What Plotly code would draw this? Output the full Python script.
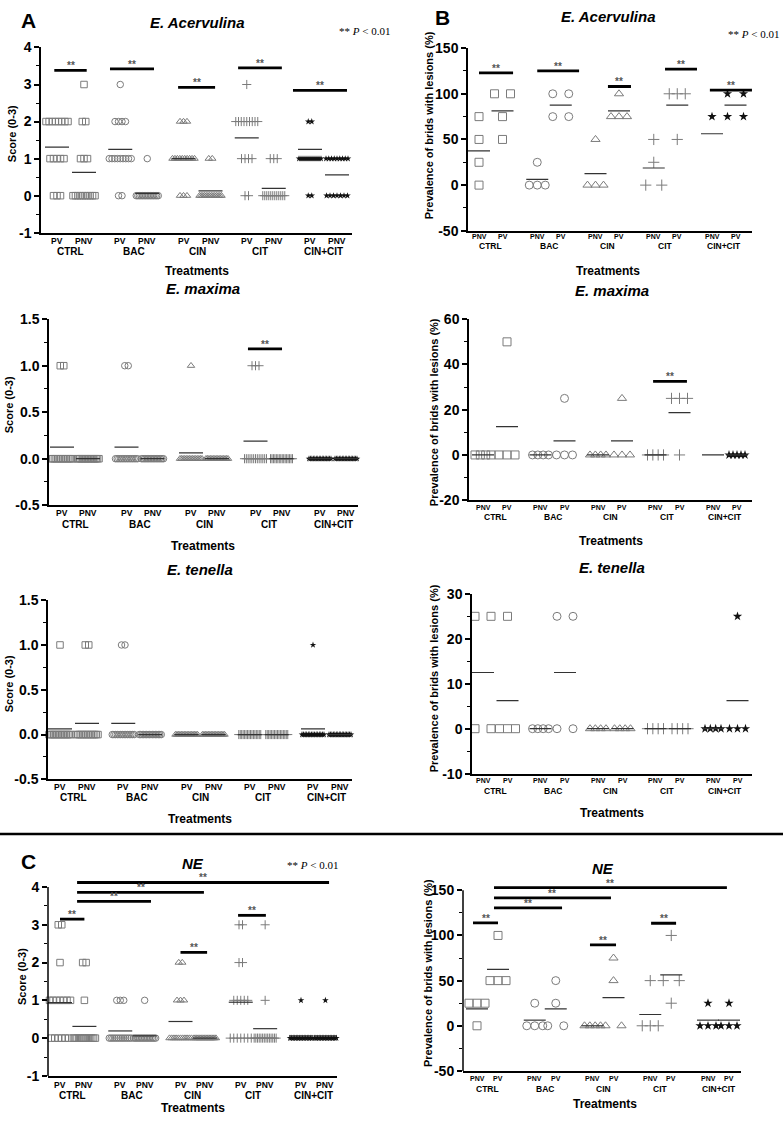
import numpy as np
import plotly.graph_objects as go

# ---------------------------------------------------------------- data
groups = ["CTRL", "BAC", "CIN", "CIT", "CIN+CIT"]
sub_score = ["PV", "PNV"]          # order on the score (left) panels
sub_prev = ["PNV", "PV"]           # order on the prevalence (right) panels
score_levels = [0, 1, 2, 3]

# Lesion scores: number of birds at score 0, 1, 2, 3 for each treatment
acer_score_pv = [[3, 5, 8, 0], [2, 9, 4, 1], [3, 10, 3, 0], [2, 4, 9, 1], [2, 12, 2, 0]]
acer_score_pnv = [[10, 3, 2, 1], [15, 1, 0, 0], [14, 2, 0, 0], [12, 3, 0, 0], [7, 9, 0, 0]]
acer_score_mean_pv = [1.31, 1.25, 1.00, 1.56, 1.25]
acer_score_mean_pnv = [0.63, 0.06, 0.13, 0.20, 0.56]

max_score_pv = [[14, 2], [14, 2], [15, 1], [13, 3], [16, 0]]
max_score_pnv = [[16, 0], [16, 0], [16, 0], [16, 0], [16, 0]]
max_score_mean_pv = [0.125, 0.125, 0.0625, 0.19, 0.0]
max_score_mean_pnv = [0.0, 0.0, 0.0, 0.0, 0.0]

ten_score_pv = [[15, 1], [14, 2], [16, 0], [16, 0], [15, 1]]
ten_score_pnv = [[14, 2], [16, 0], [16, 0], [16, 0], [16, 0]]
ten_score_mean_pv = [0.0625, 0.125, 0.0, 0.0, 0.0625]
ten_score_mean_pnv = [0.125, 0.0, 0.0, 0.0, 0.0]

ne_score_pv = [[6, 7, 1, 2], [13, 3, 0, 0], [11, 3, 2, 0], [7, 5, 2, 2], [15, 1, 0, 0]]
ne_score_pnv = [[13, 1, 2, 0], [15, 1, 0, 0], [16, 0, 0, 0], [14, 1, 0, 1], [15, 1, 0, 0]]
ne_score_mean_pv = [0.94, 0.19, 0.44, 0.95, 0.06]
ne_score_mean_pnv = [0.31, 0.06, 0.0, 0.25, 0.06]

# Prevalence of birds with lesions (%), one value per pen
acer_prev_pnv = [[0, 25, 50, 75], [0, 0, 0, 25], [0, 0, 0, 50], [0, 0, 25, 50], [75]]
acer_prev_pv = [[50, 75, 100, 100], [75, 75, 100, 100], [75, 75, 75, 100], [50, 100, 100, 100], [75, 75, 100, 100]]
acer_prev_mean_pnv = [37.5, 6.25, 12.5, 18.75, 56.25]
acer_prev_mean_pv = [81.25, 87.5, 81.25, 87.5, 87.5]

max_prev_pnv = [[0, 0, 0, 0], [0, 0, 0, 0], [0, 0, 0, 0], [0, 0, 0, 0], []]
max_prev_pv = [[0, 0, 0, 50], [0, 0, 0, 25], [0, 0, 0, 25], [0, 25, 25, 25], [0, 0, 0, 0, 0]]
max_prev_mean_pnv = [0.0, 0.0, 0.0, 0.0, 0.0]
max_prev_mean_pv = [12.5, 6.25, 6.25, 18.75, 0.0]

ten_prev_pnv = [[0, 0, 25, 25], [0, 0, 0, 0], [0, 0, 0, 0], [0, 0, 0, 0], [0, 0, 0, 0]]
ten_prev_pv = [[0, 0, 0, 25], [0, 0, 25, 25], [0, 0, 0, 0], [0, 0, 0, 0], [0, 0, 0, 25]]
ten_prev_mean_pnv = [12.5, 0.0, 0.0, 0.0, 0.0]
ten_prev_mean_pv = [6.25, 12.5, 0.0, 0.0, 6.25]

ne_prev_pnv = [[0, 25, 25, 25], [0, 0, 0, 25], [0, 0, 0, 0], [0, 0, 0, 50], [0, 0, 0, 25]]
ne_prev_pv = [[50, 50, 50, 100], [0, 0, 25, 50], [0, 0, 50, 75], [25, 50, 50, 100], [0, 0, 0, 25]]
ne_prev_mean_pnv = [18.75, 6.25, 0.0, 12.5, 6.25]
ne_prev_mean_pv = [62.5, 18.75, 31.25, 56.25, 6.25]

# Significance bars (** P < 0.01): (group from, offset, group to, offset, level)
acer_score_sig = [(0, -0.1, 0, 1.1, 3.38), (1, -0.38, 1, 1.25, 3.42), (2, -0.2, 2, 1.17, 2.92),
                  (3, -0.32, 3, 1.3, 3.45), (4, -0.63, 4, 1.37, 2.84)]
acer_prev_sig = [(0, 0.0, 0, 1.45, 123), (1, 0.0, 1, 1.78, 125), (2, 0.53, 2, 1.51, 108),
                 (3, 0.48, 3, 1.84, 127), (4, -0.09, 4, 1.7, 104)]
max_score_sig = [(3, -0.29, 3, 1.02, 1.18)]
max_prev_sig = [(3, -0.1, 3, 1.31, 32.5)]
ten_score_sig = []
ten_prev_sig = []
ne_score_sig = [(0, 0.0, 0, 1.0, 3.15), (2, 0.0, 2, 1.09, 2.27), (3, -0.11, 3, 1.03, 3.25),
                (0, 0.7, 1, 1.26, 3.62), (0, 0.7, 2, 0.96, 3.86), (0, 0.7, 4, 1.15, 4.12)]
ne_prev_sig = [(0, -0.19, 0, 1.0, 114), (2, -0.12, 2, 1.12, 89.5), (3, 0.04, 3, 1.23, 113.5),
               (0, 0.81, 1, 1.3, 130.5), (0, 0.81, 2, 0.88, 141.5), (0, 0.81, 4, 0.9, 153)]

# ---------------------------------------------------------------- style / layout
W, H = 783, 1125
SANS = "Liberation Sans"
SERIF = "Liberation Serif"
GRAY = "#7b7b7b"
symbols = ["square-open", "circle-open", "triangle-up-open", "cross-thin", "star"]
marker_colors = [GRAY, GRAY, GRAY, GRAY, "#111111"]

# pixel geometry of each panel
GEOM = [
    dict(x0=41, x1=352, first=57, gsp=63.25, ssp=27, yt=40, yb=228, vt=4, vb=-1, ext=4, dt=1, mn=0.5, fmt="g", so=8, go=19),
    dict(x0=468, x1=752, first=479, gsp=58.25, ssp=23.5, yt=40.7, yb=226, vt=150, vb=-50, ext=150, dt=50, mn=25, fmt="g", so=6, go=15),
    dict(x0=49, x1=358, first=62, gsp=64.5, ssp=26, yt=315.7, yb=504.4, vt=1.5, vb=-0.5, ext=1.5, dt=0.5, mn=0.25, fmt=".1f", so=8, go=19),
    dict(x0=469, x1=752, first=483, gsp=57.5, ssp=24, yt=315.7, yb=499.3, vt=60, vb=-20, ext=60, dt=20, mn=10, fmt="g", so=7, go=17),
    dict(x0=48, x1=352, first=60, gsp=63.25, ssp=27, yt=600.7, yb=782.5, vt=1.5, vb=-0.5, ext=1.5, dt=0.5, mn=0.25, fmt=".1f", so=7.5, go=18.5),
    dict(x0=472, x1=752, first=483, gsp=57.5, ssp=24.5, yt=594.3, yb=776.7, vt=30, vb=-10, ext=30, dt=10, mn=5, fmt="g", so=7, go=17),
    dict(x0=48, x1=337, first=60, gsp=60.25, ssp=24.4, yt=891.7, yb=1083.3, vt=4, vb=-1, ext=4.45, dt=1, mn=0.5, fmt="g", so=9, go=20),
    dict(x0=463, x1=741, first=477, gsp=57.75, ssp=21, yt=895, yb=1078.3, vt=150, vb=-50, ext=165, dt=50, mn=25, fmt="g", so=8, go=18),
]

CONTENT = [
    dict(kind="score", subs=sub_score, a=acer_score_pv, b=acer_score_pnv, ma=acer_score_mean_pv, mb=acer_score_mean_pnv, sig=acer_score_sig),
    dict(kind="prev", subs=sub_prev, a=acer_prev_pnv, b=acer_prev_pv, ma=acer_prev_mean_pnv, mb=acer_prev_mean_pv, sig=acer_prev_sig),
    dict(kind="score", subs=sub_score, a=max_score_pv, b=max_score_pnv, ma=max_score_mean_pv, mb=max_score_mean_pnv, sig=max_score_sig),
    dict(kind="prev", subs=sub_prev, a=max_prev_pnv, b=max_prev_pv, ma=max_prev_mean_pnv, mb=max_prev_mean_pv, sig=max_prev_sig),
    dict(kind="score", subs=sub_score, a=ten_score_pv, b=ten_score_pnv, ma=ten_score_mean_pv, mb=ten_score_mean_pnv, sig=ten_score_sig),
    dict(kind="prev", subs=sub_prev, a=ten_prev_pnv, b=ten_prev_pv, ma=ten_prev_mean_pnv, mb=ten_prev_mean_pv, sig=ten_prev_sig),
    dict(kind="score", subs=sub_score, a=ne_score_pv, b=ne_score_pnv, ma=ne_score_mean_pv, mb=ne_score_mean_pnv, sig=ne_score_sig),
    dict(kind="prev", subs=sub_prev, a=ne_prev_pnv, b=ne_prev_pv, ma=ne_prev_mean_pnv, mb=ne_prev_mean_pv, sig=ne_prev_sig),
]


def spread(n, step, cap):
    if n <= 1:
        return [0.0] * n
    span = min(step * (n - 1), cap)
    return list(np.linspace(-span / 2, span / 2, n))


fig = go.Figure()
layout = {}
shapes = []
annotations = []

for i, (geo, con) in enumerate(zip(GEOM, CONTENT), start=1):
    s = "" if i == 1 else str(i)
    xr, yr = "x" + s, "y" + s
    ssp = geo["ssp"]
    G = geo["gsp"] / ssp
    left = con["kind"] == "score"
    msize = 6.5 if left else 8
    step, cap = (3.5, 22) if left else (16, 16)

    def pos(g, f):
        return g * G + f

    # data points
    for g in range(len(groups)):
        for j, data in enumerate([con["a"], con["b"]]):
            xs, ys = [], []
            if left:
                for lvl, c in zip(score_levels, data[g]):
                    xs += [pos(g, j) + o / ssp for o in spread(c, step, cap)]
                    ys += [lvl] * c
            else:
                vals = data[g]
                for v in sorted(set(vals)):
                    c = vals.count(v)
                    xs += [pos(g, j) + o / ssp for o in spread(c, step, cap)]
                    ys += [v] * c
            col = marker_colors[g]
            if symbols[g] == "star":
                mk = dict(symbol="star", size=(5 if left else 7), color=col, line=dict(width=0))
            else:
                mk = dict(symbol=symbols[g], size=msize, color=col, line=dict(width=1, color=col))
            fig.add_trace(go.Scatter(
                x=xs, y=ys, mode="markers", xaxis=xr, yaxis=yr, showlegend=False,
                marker=mk, cliponaxis=False, hoverinfo="skip"))

    # mean lines
    hw = (12 if left else 11) / ssp
    mx, my = [], []
    for g in range(len(groups)):
        for j, means in enumerate([con["ma"], con["mb"]]):
            c = pos(g, j)
            mx += [c - hw, c + hw, None]
            my += [means[g], means[g], None]
    fig.add_trace(go.Scatter(x=mx, y=my, mode="lines", xaxis=xr, yaxis=yr, showlegend=False,
                             line=dict(color="#333333", width=1.2), hoverinfo="skip"))

    # significance bars
    if con["sig"]:
        sx, sy = [], []
        for g0, f0, g1, f1, lev in con["sig"]:
            a, b = pos(g0, f0), pos(g1, f1)
            sx += [a, b, None]
            sy += [lev, lev, None]
            annotations.append(dict(xref=xr, yref=yr, x=(a + b) / 2, y=lev, yanchor="bottom", yshift=-3,
                                    showarrow=False, text="<b>**</b>",
                                    font=dict(family=SANS, size=10, color="#555555")))
        fig.add_trace(go.Scatter(x=sx, y=sy, mode="lines", xaxis=xr, yaxis=yr, showlegend=False,
                                 line=dict(color="black", width=2.8), hoverinfo="skip"))

    # axes
    vb, vt, ext, dt, mn = geo["vb"], geo["vt"], geo["ext"], geo["dt"], geo["mn"]
    k = (geo["yb"] - geo["yt"]) / (vt - vb)
    top_px = geo["yt"] - (ext - vt) * k
    tv = np.arange(vb, vt + dt * 0.5, dt)
    tt = [format(v, geo["fmt"]) for v in tv]
    minor_v = np.arange(vb + mn, vt, 2 * mn)
    extended = ext > vt
    layout["xaxis" + s] = dict(
        domain=[geo["x0"] / W, geo["x1"] / W],
        range=[(geo["x0"] - geo["first"]) / ssp, (geo["x1"] - geo["first"]) / ssp],
        anchor=yr, showline=True, linecolor="black", linewidth=1.5, showticklabels=False,
        ticks="", showgrid=False, zeroline=False, fixedrange=True)
    layout["yaxis" + s] = dict(
        domain=[1 - geo["yb"] / H, 1 - top_px / H], range=[vb, ext], anchor=xr,
        showline=not extended, linecolor="black", linewidth=1.5,
        tickmode="array", tickvals=list(tv), ticktext=tt,
        ticks="outside", ticklen=5, tickwidth=1.5, tickcolor="black",
        minor=dict(tickmode="array", tickvals=list(minor_v), ticks="outside", ticklen=3,
                   tickwidth=1.2, tickcolor="black"),
        tickfont=dict(family=SANS, size=14, color="black", weight="bold"),
        showgrid=False, zeroline=False, fixedrange=True)
    if extended:
        shapes.append(dict(type="line", xref=xr + " domain", yref=yr, x0=0, x1=0, y0=vb, y1=vt,
                           line=dict(color="black", width=1.5)))

    # category labels under the x axis
    sub_size = 8.5 if left else 7
    grp_size = 10 if left else 8.5
    for g, name in enumerate(groups):
        for j, sub in enumerate(con["subs"]):
            annotations.append(dict(xref=xr, yref=yr + " domain", x=pos(g, j), y=0, yanchor="middle",
                                    yshift=-geo["so"], showarrow=False, text="<b>%s</b>" % sub,
                                    font=dict(family=SANS, size=sub_size, color="black")))
        annotations.append(dict(xref=xr, yref=yr + " domain", x=pos(g, 0.5), y=0, yanchor="middle",
                                yshift=-geo["go"], showarrow=False, text="<b>%s</b>" % name,
                                font=dict(family=SANS, size=grp_size, color="black")))

# ---------------------------------------------------------------- text
PV_TXT = "** <i>P</i> &lt; 0.01"
texts = [
    # text, x px, y px, size, family, angle, anchor
    ("<b>A</b>", 28, 13, 21, SANS, 0, "center"),
    ("<b>B</b>", 443, 10, 21, SANS, 0, "center"),
    ("<b>C</b>", 28, 866, 21, SANS, 0, "center"),
    ("<b><i>E. Acervulina</i></b>", 197, 15, 15, SANS, 0, "center"),
    ("<b><i>E. Acervulina</i></b>", 608, 9, 15, SANS, 0, "center"),
    (PV_TXT, 364, 23, 11, SERIF, 0, "center"),
    (PV_TXT, 781, 26, 11, SERIF, 0, "right"),
    ("<b>Treatments</b>", 197, 267, 12, SANS, 0, "center"),
    ("<b>Treatments</b>", 608, 267, 12, SANS, 0, "center"),
    ("<b><i>E. maxima</i></b>", 203, 285, 15, SANS, 0, "center"),
    ("<b><i>E. maxima</i></b>", 612, 287, 15, SANS, 0, "center"),
    ("<b>Treatments</b>", 203, 546, 12, SANS, 0, "center"),
    ("<b>Treatments</b>", 611, 541, 12, SANS, 0, "center"),
    ("<b><i>E. tenella</i></b>", 200, 570, 15, SANS, 0, "center"),
    ("<b><i>E. tenella</i></b>", 612, 568, 15, SANS, 0, "center"),
    ("<b>Treatments</b>", 200, 823, 12, SANS, 0, "center"),
    ("<b>Treatments</b>", 612, 817, 12, SANS, 0, "center"),
    ("<b><i>NE</i></b>", 193, 868, 15, SANS, 0, "center"),
    (PV_TXT, 312, 869, 11, SERIF, 0, "center"),
    ("<b><i>NE</i></b>", 603, 873, 15, SANS, 0, "center"),
    ("<b>Treatments</b>", 193, 1116, 12, SANS, 0, "center"),
    ("<b>Treatments</b>", 605, 1112, 12, SANS, 0, "center"),
    ("<b>Score (0-3)</b>", 12, 128, 11, SANS, -90, "center"),
    ("<b>Score (0-3)</b>", 9, 403, 11, SANS, -90, "center"),
    ("<b>Score (0-3)</b>", 9, 686, 11, SANS, -90, "center"),
    ("<b>Score (0-3)</b>", 22, 983, 11, SANS, -90, "center"),
    ("<b>Prevalence of brids with lesions (%)</b>", 429, 119, 11, SANS, -90, "center"),
    ("<b>Prevalence of brids with lesions (%)</b>", 434, 410, 11, SANS, -90, "center"),
    ("<b>Prevalence of brids with lesions (%)</b>", 434, 680, 11, SANS, -90, "center"),
    ("<b>Prevalence of brids with lesions (%)</b>", 428, 979, 11, SANS, -90, "center"),
]
for t, px, py, size, fam, ang, anc in texts:
    annotations.append(dict(xref="paper", yref="paper", x=px / W, y=1 - py / H, xanchor=anc,
                            yanchor="middle", showarrow=False, text=t, textangle=ang,
                            font=dict(family=fam, size=size, color="black")))

# separator between panels B and C
shapes.append(dict(type="line", xref="paper", yref="paper", x0=0, x1=1, y0=1 - 838 / H, y1=1 - 838 / H,
                   line=dict(color="black", width=2.5)))

fig.update_layout(
    width=W, height=H, margin=dict(l=0, r=0, t=0, b=0),
    paper_bgcolor="white", plot_bgcolor="white", showlegend=False,
    font=dict(family=SANS, color="black"),
    shapes=shapes, annotations=annotations, **layout)

fig.write_html("out.html", config={"displayModeBar": False},
               post_script="document.body.style.margin='0';document.body.style.overflow='hidden';")
